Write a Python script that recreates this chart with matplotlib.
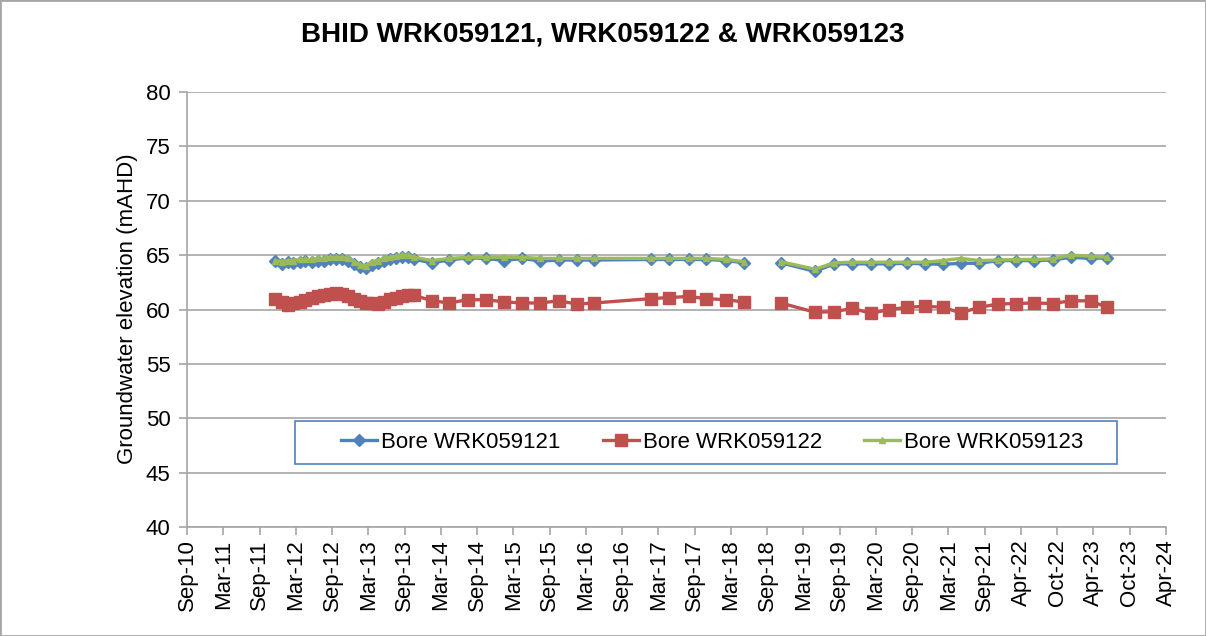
import numpy as np
import pandas as pd
import matplotlib
matplotlib.use('Agg')
import matplotlib.pyplot as plt
import matplotlib.dates as mdates
from matplotlib.patches import Rectangle

plt.rcParams['font.family'] = ['Liberation Sans', 'DejaVu Sans']

# sampling dates (NaN row = break in the lines)
dates = ['2011-12-12', '2012-01-12', '2012-02-12', '2012-03-12', '2012-04-12', '2012-05-12',
         '2012-06-12', '2012-07-12', '2012-08-12', '2012-09-12', '2012-10-12', '2012-11-12',
         '2012-12-12', '2013-01-12', '2013-02-12', '2013-03-12', '2013-04-12', '2013-05-12',
         '2013-06-12', '2013-07-12', '2013-08-12', '2013-09-12', '2013-10-12', '2013-11-12',
         '2014-02-10', '2014-05-08', '2014-08-10', '2014-11-08', '2015-02-10', '2015-05-11',
         '2015-08-10', '2015-11-11', '2016-02-11', '2016-05-09',
         '2017-02-17', '2017-05-21', '2017-08-28', '2017-11-24', '2018-03-05', '2018-06-01',
         '2018-09-01',
         '2018-12-05', '2019-05-28', '2019-09-01', '2019-12-02', '2020-03-06', '2020-06-05',
         '2020-09-05', '2020-12-03', '2021-03-02', '2021-06-01', '2021-09-03', '2021-12-05',
         '2022-03-07', '2022-06-06', '2022-09-08', '2022-12-08', '2023-03-19', '2023-06-08']

bore_121 = [64.5, 64.2, 64.4, 64.3, 64.4, 64.5, 64.4, 64.5, 64.5, 64.6, 64.6, 64.6,
            64.5, 64.2, 63.9, 63.8, 64.1, 64.3, 64.5, 64.6, 64.7, 64.8, 64.8, 64.6,
            64.3, 64.55, 64.75, 64.7, 64.5, 64.7, 64.45, 64.55, 64.55, 64.55,
            64.6, 64.6, 64.6, 64.6, 64.5, 64.3,
            np.nan,
            64.3, 63.5, 64.2, 64.2, 64.2, 64.2, 64.25, 64.2, 64.15, 64.25, 64.25, 64.5,
            64.5, 64.5, 64.55, 64.8, 64.7, 64.75]

bore_122 = [61.0, 60.7, 60.4, 60.6, 60.7, 60.9, 61.1, 61.2, 61.3, 61.4, 61.5, 61.4,
            61.2, 61.0, 60.8, 60.6, 60.6, 60.5, 60.7, 61.0, 61.1, 61.2, 61.3, 61.3,
            60.8, 60.6, 60.9, 60.9, 60.7, 60.6, 60.6, 60.8, 60.5, 60.6,
            61.0, 61.1, 61.2, 61.0, 60.9, 60.7,
            np.nan,
            60.6, 59.75, 59.8, 60.1, 59.65, 60.0, 60.2, 60.3, 60.2, 59.7, 60.2, 60.5,
            60.55, 60.6, 60.55, 60.8, 60.8, 60.2]

bore_123 = [64.5, 64.4, 64.5, 64.5, 64.6, 64.6, 64.6, 64.7, 64.7, 64.8, 64.8, 64.8,
            64.7, 64.4, 64.1, 64.0, 64.4, 64.5, 64.7, 64.8, 64.9, 65.0, 65.0, 64.8,
            64.5, 64.7, 64.8, 64.8, 64.8, 64.8, 64.7, 64.7, 64.7, 64.7,
            64.7, 64.7, 64.7, 64.7, 64.6, 64.4,
            np.nan,
            64.4, 63.7, 64.3, 64.35, 64.35, 64.35, 64.35, 64.35, 64.5, 64.7, 64.5, 64.55,
            64.6, 64.6, 64.65, 65.0, 64.9, 64.8]

labels = ['Bore WRK059121', 'Bore WRK059122', 'Bore WRK059123']
x = pd.to_datetime(dates)

fig = plt.figure(figsize=(12.06, 6.36), dpi=100)
ax = fig.add_axes([187/1206, 1-527/636, 979/1206, 435/636])

ax.plot(x, bore_121, color='#4F81BD', lw=2.4, marker='D', ms=6.5, label=labels[0], zorder=3)
ax.plot(x, bore_122, color='#C0504D', lw=2.4, marker='s', ms=8.5, label=labels[1], zorder=3)
ax.plot(x, bore_123, color='#9BBB59', lw=2.4, marker='^', ms=4, label=labels[2], zorder=4)

# axis: ticks every 183 days like the excel date axis
start = pd.Timestamp('2010-09-22')
ticks = [start + pd.Timedelta(days=183 * k) for k in range(28)]
ax.set_xlim(ticks[0], ticks[-1])
ax.set_xticks(ticks)
ax.xaxis.set_major_formatter(mdates.DateFormatter('%b-%y'))
ax.tick_params(axis='x', labelrotation=90, labelsize=16, length=6, width=1.2, color='#a6a6a6', pad=3)

ax.set_ylim(40, 80)
ax.set_yticks(np.arange(40, 81, 5))
ax.tick_params(axis='y', labelsize=16, length=6, width=1.2, color='#a6a6a6', pad=6)
ax.yaxis.grid(True, color='#a6a6a6', lw=1.2)
ax.set_axisbelow(True)

for s in ['top', 'right']:
    ax.spines[s].set_visible(False)
for s in ['left', 'bottom']:
    ax.spines[s].set_color('#a6a6a6')
    ax.spines[s].set_linewidth(1.2)

fig.text(127/1206, 1-308.5/636, 'Groundwater elevation (mAHD)', rotation=90,
         ha='center', va='center', fontsize=16)
fig.text(0.5, 1-35/636, 'BHID WRK059121, WRK059122 & WRK059123', ha='center', va='center',
         fontsize=20, fontweight='bold')

# legend box
ax.add_patch(Rectangle((0.1103, 0.1448), 0.8396, 0.0989, transform=ax.transAxes,
                       facecolor='white', edgecolor='#4F81BD', lw=1.2, zorder=5))
leg = ax.legend(loc='center', bbox_to_anchor=(0.5368, 0.1943), ncol=3, frameon=False,
                fontsize=16, handlelength=1.6, handletextpad=0.2, columnspacing=1.9)
leg.set_zorder(6)

fig.patches.append(Rectangle((0, 0), 1, 1, transform=fig.transFigure, fill=False,
                             edgecolor='#a6a6a6', lw=2))

fig.savefig('out.png', dpi=100)
